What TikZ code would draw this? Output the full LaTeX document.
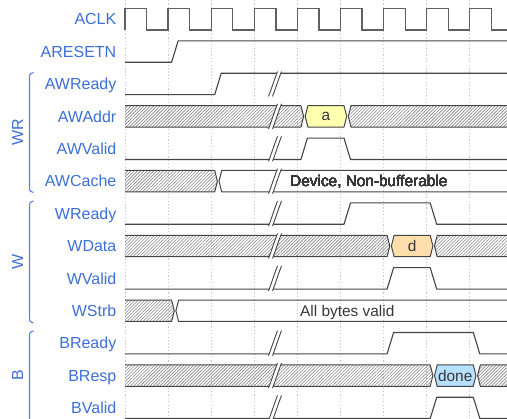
\documentclass[tikz,border=0pt]{standalone}
\usepackage{fontspec}
\setmainfont{Liberation Sans}
\usetikzlibrary{patterns.meta}
\definecolor{lblblue}{RGB}{61,111,217}
\definecolor{brblue}{RGB}{80,130,232}
\definecolor{sigc}{RGB}{68,68,68}
\definecolor{gridc}{RGB}{200,200,200}
\definecolor{hatchc}{RGB}{135,135,135}
\definecolor{valA}{RGB}{255,255,176}
\definecolor{valD}{RGB}{255,222,173}
\definecolor{valDone}{RGB}{182,224,255}
\definecolor{valtxtc}{RGB}{55,55,55}
\tikzset{
 sig/.style={draw=sigc, line width=1.1pt, line join=round},
 bus/.style={draw=sigc, line width=1pt, line join=round},
 clk/.style={draw=sigc!85, line width=1.3pt},
 gridln/.style={draw=gridc, line width=0.8pt, dash pattern=on 1.2pt off 2.2pt},
 hatchfill/.style={pattern={Lines[angle=45,distance=2.3pt,line width=0.6pt]}, pattern color=hatchc},
 lbl/.style={text=lblblue, font=\fontsize{16}{19}\selectfont, anchor=base east, inner sep=0pt},
 grp/.style={text=lblblue, font=\fontsize{16}{19}\selectfont, rotate=90, inner sep=0pt},
 brace/.style={draw=brblue, line width=1.1pt},
 valtxt/.style={text=valtxtc, font=\fontsize{15.4}{18}\selectfont, inner sep=0pt},
 gapln/.style={draw=sigc, line width=0.9pt},
}
% hatched segment from start to a transition at edge #1, row centre #2
\newcommand\hStart[2]{%
  \path[hatchfill] (125,#2-10.7) -- (#1+3.5,#2-10.7) -- (#1+6.2,#2) -- (#1+3.5,#2+10.7) -- (125,#2+10.7) -- cycle;
  \draw[bus] (125,#2-10.7) -- (#1+3.5,#2-10.7) -- (#1+6.2,#2) -- (#1+3.5,#2+10.7) -- (125,#2+10.7);}
% hatched segment from a transition at edge #1 to the end
\newcommand\hEnd[2]{%
  \path[hatchfill] (#1+7.8,#2) -- (#1+10.5,#2-10.7) -- (512,#2-10.7) -- (512,#2+10.7) -- (#1+10.5,#2+10.7) -- cycle;
  \draw[bus] (512,#2-10.7) -- (#1+10.5,#2-10.7) -- (#1+7.8,#2) -- (#1+10.5,#2+10.7) -- (512,#2+10.7);}
% white segment from a transition at edge #1 to the end
\newcommand\wEnd[2]{%
  \draw[bus] (512,#2-10.7) -- (#1+10.5,#2-10.7) -- (#1+7.8,#2) -- (#1+10.5,#2+10.7) -- (512,#2+10.7);}
% value box
\newcommand\vBox[6]{%
  \draw[bus, fill=#1] (#2+7.8,#4) -- (#2+10.5,#4-10.7) -- (#3+3.5,#4-10.7) -- (#3+6.2,#4) -- (#3+3.5,#4+10.7) -- (#2+10.5,#4+10.7) -- cycle;
  \node[valtxt] (#5) at ({(#2+#3)/2+7},#4) {#6};}
% time-break mark
\newcommand\gapMark[1]{%
  \fill[white] (268.5,#1+12.5) -- (277.5,#1-12.5) -- (281.5,#1-12.5) -- (272.5,#1+12.5) -- cycle;
  \draw[gapln] (268.5,#1+12.5) .. controls (271.8,#1+4) and (273.8,#1-3) .. (277.5,#1-12.5);
  \draw[gapln] (272.5,#1+12.5) .. controls (275.8,#1+4) and (277.8,#1-3) .. (281.5,#1-12.5);}
\begin{document}
\begin{tikzpicture}[x=1pt,y=-1pt]
\useasboundingbox (0,0) rectangle (507,419);
\fill[white] (0,0) rectangle (507,419);
\clip (0,0) rectangle (507,419);
% grid
\foreach \k in {0,...,8} \draw[gridln] ({125+43.1*\k},0) -- ({125+43.1*\k},419);
% ACLK
\draw[clk] (125,29.9) \foreach \k in {0,...,8}{ -- ({125+43.1*\k},29.9) -- ({125+43.1*\k},8.5) -- ({146.55+43.1*\k},8.5) -- ({146.55+43.1*\k},29.9)} -- (512,29.9);
% ARESETN
\draw[sig] (125,62.3) -- (171.6,62.3) -- (178.1,40.9) -- (512,40.9);
% AWReady
\draw[sig] (125,94.7) -- (214.7,94.7) -- (221.2,73.3) -- (512,73.3);
% AWAddr
\hStart{297.4}{116.4}
\vBox{valA}{297.4}{340.5}{116.4}{va}{a}
\hEnd{340.5}{116.4}
% AWValid
\draw[sig] (125,159.5) -- (300.9,159.5) -- (307.4,138.1) -- (344,138.1) -- (350.5,159.5) -- (512,159.5);
% AWCache
\hStart{211.2}{181.2}
\wEnd{211.2}{181.2}
% WReady
\draw[sig] (125,224.3) -- (344,224.3) -- (350.5,202.9) -- (430.2,202.9) -- (436.7,224.3) -- (512,224.3);
% WData
\hStart{383.6}{246.0}
\vBox{valD}{383.6}{426.7}{246.0}{vd}{d}
\hEnd{426.7}{246.0}
% WValid
\draw[sig] (125,289.1) -- (387.1,289.1) -- (393.6,267.7) -- (430.2,267.7) -- (436.7,289.1) -- (512,289.1);
% WStrb
\hStart{168.1}{310.8}
\wEnd{168.1}{310.8}
% BReady
\draw[sig] (125,353.9) -- (387.1,353.9) -- (393.6,332.5) -- (473.3,332.5) -- (479.8,353.9) -- (512,353.9);
% BResp
\hStart{426.7}{375.6}
\vBox{valDone}{426.7}{469.8}{375.6}{vdone}{done}
\hEnd{469.8}{375.6}
% BValid
\draw[sig] (125,418.4) -- (430.2,418.4) -- (436.7,397.3) -- (473.3,397.3) -- (479.8,418.4) -- (512,418.4);
% time breaks
\foreach \c in {84.0,116.4,148.8,181.2,213.6,246.0,278.4,343.2,375.6,408.0} \gapMark{\c}
% texts in white segments
\node[valtxt, anchor=base west] (vcache) at (290,186.7) {Device, Non-bufferable};
\node[valtxt, anchor=base west] (vstrb) at (300,316.3) {All bytes valid};
% labels
\foreach \t [count=\i from 0] in {ACLK,ARESETN,AWReady,AWAddr,AWValid,AWCache,WReady,WData,WValid,WStrb,BReady,BResp,BValid}
  \node[lbl] (lab\i) at (116.5,{19.2+32.4*\i+5.7}) {\t};
% group braces
\draw[brace] (33.5,72.5) .. controls (30.5,72.5) and (29.5,74) .. (29.5,78) -- (29.5,187) .. controls (29.5,191) and (30.5,192.5) .. (33.5,192.5);
\draw[brace] (33.5,201) .. controls (30.5,201) and (29.5,202.5) .. (29.5,206.5) -- (29.5,317.5) .. controls (29.5,321.5) and (30.5,323) .. (33.5,323);
\draw[brace] (33.5,331) .. controls (30.5,331) and (29.5,332.5) .. (29.5,336.5) -- (29.5,425);
\node[grp] (gWR) at (17.5,132.5) {WR};
\node[grp] (gW) at (17.5,262) {W};
\node[grp] (gB) at (17.5,375) {B};
\end{tikzpicture}
\end{document}
